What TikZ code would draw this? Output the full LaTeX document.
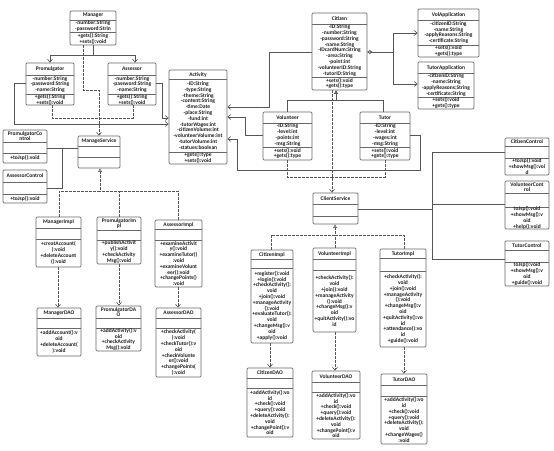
\documentclass[tikz,border=0pt]{standalone}
\usepackage{fontspec}
\setmainfont{Carlito}
\usetikzlibrary{arrows.meta,fit}
\definecolor{boxc}{HTML}{686868}
\definecolor{linec}{HTML}{555555}
\definecolor{txtc}{HTML}{1E1E1E}
\tikzset{
 clsbox/.style={draw=boxc, line width=0.7pt, rounded corners=1.2pt, inner sep=0pt, fill=white},
 divline/.style={draw=boxc, line width=0.6pt},
 utext/.style={font=\fontsize{5.5}{5.8}\selectfont\bfseries, text=txtc, align=center, inner sep=0pt},
 assoc/.style={draw=linec, line width=0.6pt},
 dep/.style={assoc, dash pattern=on 2.5pt off 1.5pt},
 openarr/.style={-{Straight Barb[length=3pt,width=5pt]}},
 gen/.style={-{Triangle[open,length=3.5pt,width=3.5pt]}},
 aggr/.style={{Diamond[open,length=5pt,width=3.5pt]}-{Straight Barb[length=3pt,width=5pt]}},
}
\newcommand\umlcls[8]{%
  \node[clsbox, fit={(#2,#3) (#4,#5)}] (#1) {};
  \draw[divline] (#2,#6) -- (#4,#6);
  \draw[divline] (#2,#7) -- (#4,#7);
  \node[utext] (#1-t) at ({(#2+#4)/2},{(#3+#6)/2}) {#8};
}
\newcommand\umlpart[6]{%
  \node[utext] (#1) at ({(#2+#3)/2},{(#4+#5)/2}) {#6};
}
\begin{document}
\begin{tikzpicture}[x=1pt,y=-1pt]
\fill[white] (0,0) rectangle (554,450);
\useasboundingbox (0,0) rectangle (554,450);

% ---------- classes ----------
\umlcls{manager}{70}{11}{116}{45}{20}{32}{Manager}
\umlpart{manager-a}{70}{116}{20}{32}{-number:String\\-password:Strin}
\umlpart{manager-m}{70}{116}{32}{45}{+gets():String\\+sets():void}

\umlcls{promulgator}{26}{63}{74}{105}{75}{94}{Promulgator}
\umlpart{promulgator-a}{26}{74}{75}{94}{-number:String\\-password:String\\-name:String}
\umlpart{promulgator-m}{26}{74}{94}{105}{+gets():String\\+sets():void}

\umlcls{assessor}{108}{63}{156}{105}{75}{94}{Assessor}
\umlpart{assessor-a}{108}{156}{75}{94}{-number:String\\-password:String\\-name:String}
\umlpart{assessor-m}{108}{156}{94}{105}{+gets():String\\+sets():void}

\umlcls{activity}{169}{70}{227}{164}{79}{152}{Activity}
\umlpart{activity-a}{169}{227}{79}{152}{-ID:String\\-type:String\\-theme:String\\-content:String\\-time:Date\\-place:String\\-fund:int\\-tutorWages:int\\-citizenVolume:int\\-volunteerVolume:int\\-tutorVolume:int\\-statues:boolean}
\umlpart{activity-m}{169}{227}{152}{164}{+gets():type\\+sets():void}

\umlcls{citizen}{312}{13}{367}{90}{24}{77}{Citizen}
\umlpart{citizen-a}{312}{367}{24}{77}{-ID:String\\-number:String\\-password:String\\-name:String\\-IDcardNum:String\\-area:String\\-point:int\\-volunteerID:String\\-tutorID:String}
\umlpart{citizen-m}{312}{367}{77}{90}{+sets():void\\+gets():type}

\umlcls{volapp}{418}{9}{479}{57}{20}{45}{VolApplication}
\umlpart{volapp-a}{418}{479}{20}{45}{-citizenID:String\\-name:String\\-applyReasons:String\\-certificate:String}
\umlpart{volapp-m}{418}{479}{45}{57}{+sets():void\\+gets():type}

\umlcls{tutorapp}{418}{62}{474}{109}{73}{97}{TutorApplication}
\umlpart{tutorapp-a}{418}{474}{73}{97}{-citizenID:String\\-name:String\\-applyReasons:String\\-certificate:String}
\umlpart{tutorapp-m}{418}{474}{97}{109}{+sets():void\\+gets():type}

\umlcls{volunteer}{263}{112}{312}{160}{123}{147}{Volunteer}
\umlpart{volunteer-a}{263}{312}{123}{147}{-ID:String\\-level:int\\-points:int\\-msg:String}
\umlpart{volunteer-m}{263}{312}{147}{160}{+sets():void\\+gets():type}

\umlcls{tutor}{360}{112}{410}{160}{123}{147}{Tutor}
\umlpart{tutor-a}{360}{410}{123}{147}{-ID:String\\-level:int\\-wages:int\\-msg:String}
\umlpart{tutor-m}{360}{410}{147}{160}{+sets():void\\+gets():type}

\umlcls{promctrl}{3}{130}{47}{163}{142}{153}{PromulgatorCo\\ntrol}
\umlpart{promctrl-m}{3}{47}{153}{163}{+toJsp():void}

\umlcls{assctrl}{3}{170}{47}{203}{182}{194}{AssessorControl}
\umlpart{assctrl-m}{3}{47}{194}{203}{+toJsp():void}

\umlcls{managesvc}{78}{136}{120}{168}{146}{157}{ManageService}

\umlcls{managerimpl}{36}{217}{81}{267}{228}{239}{ManagerImpl}
\umlpart{managerimpl-m}{36}{81}{239}{267}{+creatAccount(\\):void\\+deleteAccount\\():void}

\umlcls{promimpl}{97}{217}{141}{264}{230}{240}{PromulgatorIm\\pl}
\umlpart{promimpl-m}{97}{141}{240}{264}{+publishActivit\\y():void\\+checkActivity\\Msg():void}

\umlcls{assimpl}{155}{220}{202}{287}{229}{240}{AssessorImpl}
\umlpart{assimpl-m}{155}{202}{240}{287}{+examineActivit\\y():void\\+examineTutor()\\:void\\+examineVolunt\\eer():void\\+changePoints()\\:void}

\umlcls{managerdao}{37}{308}{81}{356}{318}{328}{ManagerDAO}
\umlpart{managerdao-m}{37}{81}{328}{356}{+addAccount():v\\oid\\+deleteAccount(\\):void}

\umlcls{promdao}{96}{306}{141}{351}{318}{328}{PromulgatorDA\\O}
\umlpart{promdao-m}{96}{141}{328}{351}{+addActivity():v\\oid\\+checkActivity\\Msg():void}

\umlcls{assdao}{156}{308}{201}{377}{318}{328}{AssessorDAO}
\umlpart{assdao-m}{156}{201}{328}{377}{+checkActivity(\\):void\\+checkTutor():v\\oid\\+checkVolunte\\er():void\\+changePoints(\\):void}

\umlcls{clientsvc}{313}{193}{358}{224}{204}{216}{ClientService}

\umlcls{citimpl}{251}{250}{293}{343}{259}{268}{CitizenImpl}
\umlpart{citimpl-m}{251}{293}{268}{343}{+register():void\\+login():void\\+checkActivity():\\void\\+join():void\\+manageActivity\\():void\\+evaluateTutor():\\void\\+changeMsg():v\\oid\\+apply():void}

\umlcls{volimpl}{313}{248}{356}{332}{259}{270}{VolunteerImpl}
\umlpart{volimpl-m}{313}{356}{270}{332}{+checkActivity():\\void\\+join():void\\+manageActivity\\():void\\+changeMsg():v\\oid\\+quitActivity():vo\\id}

\umlcls{tutimpl}{380}{249}{426}{347}{258}{271}{TutorImpl}
\umlpart{tutimpl-m}{380}{426}{271}{347}{+checkActivity():\\void\\+join():void\\+manageActivity\\():void\\+changeMsg():v\\oid\\+quitActivity():vo\\id\\+attendance():vo\\id\\+guide():void}

\umlcls{citdao}{247}{368}{293}{437}{378}{388}{CitizenDAO}
\umlpart{citdao-m}{247}{293}{388}{437}{+addActivity():vo\\id\\+check():void\\+query():void\\+deleteActivity():\\void\\+changePoint():v\\oid}

\umlcls{voldao}{312}{371}{360}{439}{382}{392}{VolunteerDAO}
\umlpart{voldao-m}{312}{360}{392}{439}{+addActivity():vo\\id\\+check():void\\+query():void\\+deleteActivity():\\void\\+changePoint():v\\oid}

\umlcls{tutdao}{381}{374}{427}{444}{385}{396}{TutorDAO}
\umlpart{tutdao-m}{381}{427}{396}{444}{+addActivity():vo\\id\\+check():void\\+query():void\\+deleteActivity():\\void\\+changeWages()\\:void}

\umlcls{citctrl}{505}{138}{549}{175}{146}{158}{CitizenControl}
\umlpart{citctrl-m}{505}{549}{158}{175}{+toJsp():void\\+showMsg():voi\\d}

\umlcls{volctrl}{505}{181}{549}{229}{193}{207}{VolunteerCont\\rol}
\umlpart{volctrl-m}{505}{549}{207}{229}{toJsp():void\\+showMsg():v\\oid\\+help():void}

\umlcls{tutctrl}{505}{241}{549}{286}{250}{262}{TutorControl}
\umlpart{tutctrl-m}{505}{549}{262}{286}{toJsp():void\\+showMsg():v\\oid\\+guide():void}

% ---------- junctions ----------
\coordinate (j1) at (99,118);
\coordinate (j4) at (332,177);
\coordinate (j5) at (62,148);
\coordinate (j6) at (100,191);
\coordinate (j7) at (119,191);
\coordinate (j8) at (335,235);
\coordinate (j10) at (404,235);

% ---------- connectors ----------
\draw[assoc,openarr] (manager.south -| 93,0) -- (93,55) -- (50,55) -- (promulgator.north -| 50,0);
\draw[assoc,openarr] (manager.south -| 93,0) -- (93,55) -- (135,55) -- (assessor.north -| 135,0);

\draw[dep,openarr] (manager.south -| 83,0) -- (83,90) -- (99,90) -- (managesvc.north -| 99,0);
\draw[dep] (promulgator.south -| 52,0) -- (52,118) -- (j1);
\draw[dep] (assessor.south -| 133,0) -- (133,118) -- (j1);

\draw[assoc,openarr] (promulgator.west |- 0,83) -- (14,83) -- (14,124) -- (activity.west |- 0,124);
\draw[assoc,openarr] (assessor.east |- 0,83) -- (162,83) -- (162,118) -- (activity.west |- 0,118);

\draw[assoc,openarr] (citizen.west |- 0,52) -- (269,52) -- (269,107) -- (activity.east |- 0,107);
\draw[assoc,openarr] (volunteer.west |- 0,135) -- (245,135) -- (245,117) -- (activity.east |- 0,117);
\draw[assoc,openarr] (tutor.east |- 0,135) -- (420,135) -- (420,170) -- (237,170) -- (237,139) -- (activity.east |- 0,139);

\draw[assoc,aggr] (citizen.east |- 0,52) -- (393,52) -- (393,33) -- (volapp.west |- 0,33);
\draw[assoc,aggr] (citizen.east |- 0,52) -- (393,52) -- (393,84) -- (tutorapp.west |- 0,84);

\draw[assoc,gen] (volunteer.north -| 287,0) -- (287,100) -- (336,100) -- (citizen.south -| 336,0);
\draw[assoc,gen] (tutor.north -| 383,0) -- (383,100) -- (336,100) -- (citizen.south -| 336,0);

\draw[dep,openarr] (citizen.south -| 332,0) -- (clientsvc.north -| 332,0);
\draw[dep] (volunteer.south -| 287,0) -- (287,177) -- (j4);
\draw[dep] (tutor.south -| 385,0) -- (385,177) -- (j4);

\draw[assoc] (promctrl.east |- 0,148) -- (managesvc.west |- 0,148);
\draw[assoc] (assctrl.east |- 0,188) -- (62,188) -- (j5);

\draw[dep,gen] (managerimpl.north -| 59,0) -- (59,191) -- (100,191) -- (managesvc.south -| 100,0);
\draw[dep] (promimpl.north -| 119,0) -- (j7) -- (j6);
\draw[dep] (assimpl.north -| 178,0) -- (178,191) -- (j7);

\draw[dep,gen] (citimpl.north -| 271,0) -- (271,235) -- (335,235) -- (clientsvc.south -| 335,0);
\draw[dep] (volimpl.north -| 335,0) -- (j8);
\draw[dep] (tutimpl.north -| 404,0) -- (j10) -- (j8);

\draw[dep,openarr] (managerimpl.south -| 58,0) -- (managerdao.north -| 58,0);
\draw[dep,openarr] (promimpl.south -| 119,0) -- (promdao.north -| 119,0);
\draw[dep,openarr] (assimpl.south -| 178,0) -- (assdao.north -| 178,0);
\draw[dep,openarr] (citimpl.south -| 270,0) -- (citdao.north -| 270,0);
\draw[dep,openarr] (volimpl.south -| 335,0) -- (voldao.north -| 335,0);
\draw[dep,openarr] (tutimpl.south -| 404,0) -- (tutdao.north -| 404,0);

\draw[assoc] (clientsvc.east |- 0,209) -- (432,209) -- (432,152) -- (citctrl.west |- 0,152);
\draw[assoc] (clientsvc.east |- 0,209) -- (432,209) -- (432,204) -- (volctrl.west |- 0,204);
\draw[assoc] (clientsvc.east |- 0,209) -- (432,209) -- (432,259) -- (tutctrl.west |- 0,259);
\end{tikzpicture}
\end{document}
